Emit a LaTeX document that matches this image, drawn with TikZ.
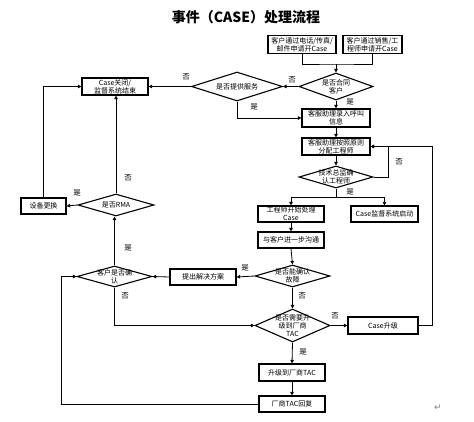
\documentclass[tikz,border=0pt]{standalone}
\usepackage{fontspec}
\newfontfamily\cjk{Noto Sans CJK SC}
\newfontfamily\djv{DejaVu Sans}
\usetikzlibrary{shapes.geometric,arrows.meta}
\tikzset{
  box/.style={draw, line width=1.2pt, align=center, inner sep=0.5pt,
    font=\cjk\fontsize{7}{8}\selectfont},
  diam/.style={draw, diamond, line width=1.1pt, inner sep=0pt},
  dtxt/.style={align=center, inner sep=0pt, font=\cjk\fontsize{7}{8}\selectfont},
  lbl/.style={inner sep=0pt, font=\cjk\fontsize{7.5}{8}\selectfont},
  conn/.style={line width=0.8pt},
  arr/.style={conn, -{Triangle[length=3.5pt,width=3.5pt]}}
}
\begin{document}
\begin{tikzpicture}[x=1pt,y=-1pt]
\useasboundingbox[fill=white] (0,0) rectangle (474,421);
\node[font=\cjk\bfseries\fontsize{14}{16}\selectfont, inner sep=0pt] (title) at (246,17) {事件（CASE）处理流程};

% boxes
\node[box, minimum width=68pt, minimum height=18pt] (A) at (302,44.5) {客户通过电话/传真/\\邮件申请开Case};
\node[box, minimum width=59pt, minimum height=18pt] (B) at (372.5,44.5) {客户通过销售/工\\程师申请开Case};
\node[box, minimum width=66pt, minimum height=17pt] (close) at (115,86.5) {Case关闭/\\监督系统结束};
\node[box, minimum width=68pt, minimum height=18pt] (record) at (336,118) {客服助理录入呼叫\\信息};
\node[box, minimum width=68pt, minimum height=17pt] (assign) at (336,146.5) {客服助理按照原则\\分配工程师};
\node[box, minimum width=66pt, minimum height=16pt] (eng) at (291,214) {工程师开始处理\\Case};
\node[box, minimum width=67pt, minimum height=16pt] (mon) at (384.5,214) {Case监督系统启动};
\node[box, minimum width=66pt, minimum height=16pt] (comm) at (291,240) {与客户进一步沟通};
\node[box, minimum width=66pt, minimum height=16pt] (sol) at (203,277) {提出解决方案};
\node[box, minimum width=45pt, minimum height=16pt] (repl) at (43.5,206) {设备更换};
\node[box, minimum width=70pt, minimum height=17pt] (upg) at (383,325.5) {Case升级};
\node[box, minimum width=66pt, minimum height=17pt] (tac) at (292,372.5) {升级到厂商TAC};
\node[box, minimum width=66pt, minimum height=16pt] (reply) at (292,404) {厂商TAC回复};

% diamonds
\node[diam, minimum width=74pt, minimum height=27pt] (d1) at (336,86.5) {};
\node[dtxt] (d1t) at (d1) {是否合同\\客户};
\node[diam, minimum width=91pt, minimum height=29pt] (d2) at (237,86.5) {};
\node[dtxt] (d2t) at (d2) {是否提供服务};
\node[diam, minimum width=74pt, minimum height=22pt] (d3) at (336,177) {};
\node[dtxt] (d3t) at (d3) {技术总监确\\认工程师};
\node[diam, minimum width=75pt, minimum height=22pt] (d4) at (292.5,276) {};
\node[dtxt] (d4t) at (d4) {是否能确认\\故障};
\node[diam, minimum width=75pt, minimum height=21pt] (d5) at (114.5,276.5) {};
\node[dtxt] (d5t) at (d5) {客户是否确\\认};
\node[diam, minimum width=75pt, minimum height=33pt] (d6) at (292.5,325.5) {};
\node[dtxt] (d6t) at (d6) {是否需要升\\级到厂商\\TAC};
\node[diam, minimum width=76pt, minimum height=22pt] (d7) at (116,205) {};
\node[dtxt] (d7t) at (d7) {是否RMA};

% connectors
\coordinate (j1) at (336,64);
\draw[conn] (A.south) |- (j1) -| (B.south);
\draw[arr] (j1) -- (d1.north);
\draw[arr] (d1.west) -- (d2.east);
\draw[arr] (d2.west) -- (close.east);
\draw[arr] (d2.south) |- (record.west);
\draw[arr] (d1.south) -- (record.north);
\draw[arr] (record.south) -- (assign.north);
\draw[arr] (assign.south) -- (d3.north);
\draw[arr] (d3.east) -- ++(15,0) |- (assign.east);
\coordinate (j2) at (336,197);
\draw[conn] (d3.south) -- (j2);
\draw[arr] (j2) -| (eng.north);
\draw[arr] (j2) -| (mon.north);
\draw[arr] (eng.south) -- (comm.north);
\draw[arr] (comm.south) -- (d4.north);
\draw[arr] (d4.west) -- (sol.east);
\draw[arr] (sol.west) -- (d5.east);
\draw[arr] (d4.south) -- (d6.north);
\draw[arr] (d5.south) |- (d6.west);
\draw[arr] (d6.east) -- (upg.west);
\draw[arr] (upg.east) -- ++(14,0) |- (assign.east);
\draw[arr] (d6.south) -- (tac.north);
\draw[arr] (tac.south) -- (reply.north);
\draw[arr] (reply.west) -- ++(-197,0) |- (d5.west);
\draw[arr] (d5.north) -- (d5.north |- d7.south);
\draw[arr] (d7.west) -- (repl.east);
\draw[arr] (d7.north) -- (d7.north |- close.south);
\draw[arr] (repl.north) |- (close.west);

% labels
\node[lbl] (l1) at (292,80) {否};
\node[lbl] (l2) at (186,77) {否};
\node[lbl] (l3) at (254,107) {是};
\node[lbl] (l4) at (350,102) {是};
\node[lbl] (l5) at (399,162) {否};
\node[lbl] (l6) at (350,192) {是};
\node[lbl] (l7) at (245,268) {是};
\node[lbl] (l8) at (302,296) {否};
\node[lbl] (l9) at (125,296) {否};
\node[lbl] (l10) at (335,316) {否};
\node[lbl] (l11) at (303,352) {是};
\node[lbl] (l12) at (128,248) {是};
\node[lbl] (l13) at (77,193) {是};
\node[lbl] (l14) at (128,178) {否};
\node[font=\djv\fontsize{9}{10}\selectfont, text=gray, inner sep=0pt] (pm) at (438,408) {↵};
\end{tikzpicture}
\end{document}
